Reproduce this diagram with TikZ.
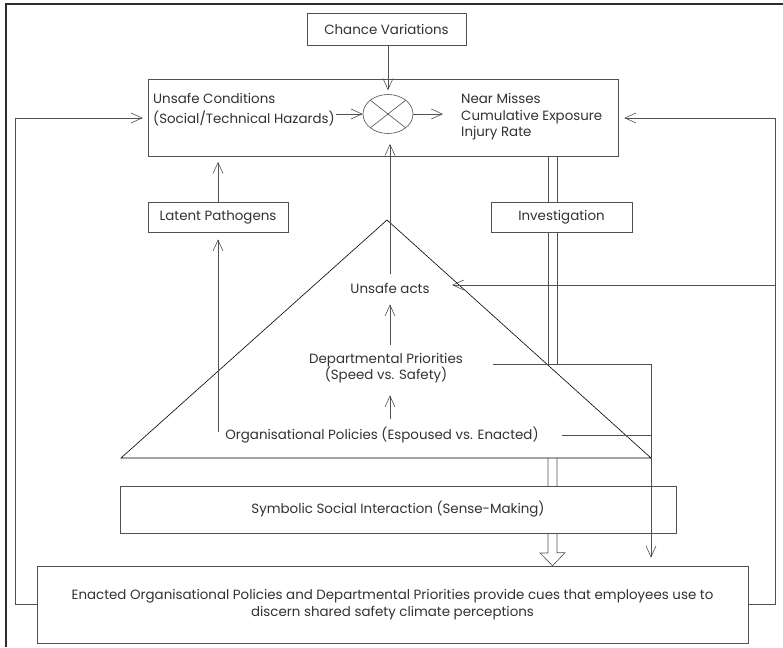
\documentclass[tikz,border=0pt]{standalone}
\usepackage{fontspec}
\setmainfont{Poppins}
\usetikzlibrary{arrows.meta,shapes.geometric}
\definecolor{framegray}{RGB}{45,45,45}
\definecolor{linegray}{RGB}{80,80,80}
\definecolor{textgray}{RGB}{50,50,50}

\tikzset{
  box/.style={draw=linegray, fill=white, inner sep=0pt, text=textgray, line width=0.6pt},
  lbl/.style={text=textgray, inner sep=1pt},
  link/.style={draw=linegray, line width=0.6pt},
  arr/.style={draw=linegray, line width=0.6pt, -{Straight Barb[length=11pt,width=10pt]}},
}

\begin{document}
\begin{tikzpicture}[x=1pt, y=-1pt, font=\fontsize{13.4}{16.5}\selectfont]
            \useasboundingbox (0,0) rectangle (783,647);
            % Frame
            \draw[framegray, line width=1.4pt] (783,4) -- (6,4) -- (6,647);
            % Fixed points
            \coordinate (ta)     at (387,220);
            \coordinate (tl)     at (121,458);
            \coordinate (tr)     at (651,458);
            \coordinate (dj)     at (651,364);
            \coordinate (dstart) at (493,364);
            \coordinate (ostart) at (562,435);
            \coordinate (atip)   at (452,285);
            \coordinate (lloop)  at (15,0);
            \coordinate (rloop)  at (775,0);
            \coordinate (hl)     at (548,0);
            \coordinate (hx)     at (552.5,0);
            \coordinate (hr)     at (557,0);
            % Outcome box
            \node[box, minimum width=159, minimum height=32] (chance) at (386.5,29) {Chance Variations};
            \node[box, minimum width=470, minimum height=77] (top)    at (383,118) {};
            \node[draw=linegray, line width=0.6pt, ellipse, minimum width=50, minimum height=39, inner sep=0pt] (ell) at (388,114) {};
            \draw[link] (ell.north west) -- (ell.south east) (ell.north east) -- (ell.south west);
            \node[lbl, align=left, anchor=west, font=\fontsize{13.4}{20}\selectfont] (cond) at (152,110)
                 {Unsafe Conditions\\(Social/Technical Hazards)};
            \node[lbl, align=left, anchor=west] (near) at (460,117)
                 {Near Misses\\Cumulative Exposure\\Injury Rate};
            % Climate box
            \node[box, minimum width=711, minimum height=77, align=center] (bot) at (392.5,604.5)
                 {Enacted Organisational Policies and Departmental Priorities provide cues that employees use to\\discern shared safety climate perceptions};
            % Hollow arrow
            \draw[link] (hl |- top.south) -- (hl |- dj);
            \draw[link] (hr |- top.south) -- (hr |- dj);
            \draw[link] (hl |- tr) -- ++(0,95) -- ++(-8,0) -- (hx |- bot.north) -- ++(12.5,-13) -- ++(-8,0) -- (hr |- tr);
            % Pyramid
            \draw[black, line width=0.6pt] (ta) -- (tl) -- (tr) -- cycle;
            \node[box, minimum width=140, minimum height=30] (lat) at (218,217)   {Latent Pathogens};
            \node[box, minimum width=141, minimum height=30] (inv) at (561.5,217) {Investigation};
            \node[lbl]               (acts) at (390,288) {Unsafe acts};
            \node[lbl, align=center] (dept) at (386,368) {Departmental Priorities\\(Speed vs. Safety)};
            \node[lbl]               (org)  at (382,435) {Organisational Policies (Espoused vs. Enacted)};
            \node[box, minimum width=556, minimum height=47] (sym) at (398,509.5) {Symbolic Social Interaction (Sense-Making)};
            % Arrows
            \draw[arr, shorten >=4pt]  (ell.north |- chance.south) -- (ell.north);
            \draw[arr]                 (cond.east |- ell.west) -- (ell.west);
            \draw[arr, shorten >=17pt] (ell.east) -- (ell.east -| near.west);
            \draw[arr, shorten <=8pt, shorten >=10pt] (acts.north) -- (acts.north |- ell.south);
            \draw[arr, shorten <=7pt, shorten >=10pt] (dept.north -| acts) -- (acts.south);
            \draw[arr, shorten <=7pt, shorten >=11pt] (org.north -| acts) -- (dept.south -| acts);
            \draw[arr, shorten <=3pt, shorten >=7pt] (lat.south |- org.west) -- (lat.south);
            \draw[arr, shorten >=5pt]  (lat.north) -- (lat.north |- top.south);
            \draw[arr, shorten >=8pt]  (dstart) -- (dj) -- (dj |- bot.north);
            \draw[link]                (ostart) -- (tr |- ostart);
            % Feedback loops
            \draw[arr, shorten >=5pt]  (bot.west) -- (lloop |- bot.west) -- (lloop |- top.west) -- (top.west);
            \draw[arr, shorten >=6pt]  (bot.east) -- (rloop |- bot.east) -- (rloop |- top.east) -- (top.east);
            \draw[arr]                 (rloop |- atip) -- (atip);
\end{tikzpicture}
\end{document}
